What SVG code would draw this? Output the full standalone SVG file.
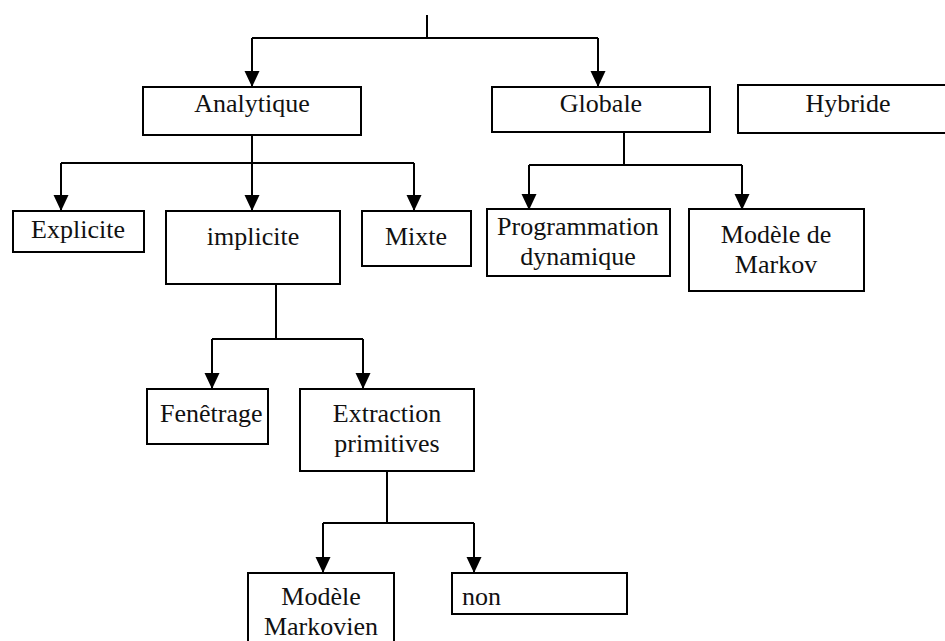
<svg xmlns="http://www.w3.org/2000/svg" width="945" height="641" viewBox="0 0 945 641">
  <style>
    .box { fill: #fff; stroke: #000; stroke-width: 2; }
    .lbl { font-family: 'Liberation Serif', 'Times New Roman', Times, serif; font-size: 26px; fill: #111; text-anchor: middle; }
    .start { text-anchor: start; }
    .wire { fill: none; stroke: #000; stroke-width: 2; }
  </style>
  <defs>
    <marker id="arrow" markerWidth="16" markerHeight="16" refX="15" refY="7.5" orient="auto" markerUnits="userSpaceOnUse">
      <path d="M0,0 L16,7.5 L0,15 Z" fill="#000"/>
    </marker>
  </defs>

  <!-- connectors: vertical drops, horizontal bus lines, arrowed branches -->
  <g id="connectors">
    <line class="wire" x1="427" y1="15" x2="427" y2="38"/>
    <line class="wire" x1="252" y1="38" x2="598" y2="38"/>
    <line class="wire" x1="252" y1="38" x2="252" y2="86" marker-end="url(#arrow)"/>
    <line class="wire" x1="598" y1="38" x2="598" y2="86" marker-end="url(#arrow)"/>
    <line class="wire" x1="252" y1="135" x2="252" y2="163"/>
    <line class="wire" x1="61" y1="163" x2="414" y2="163"/>
    <line class="wire" x1="61" y1="163" x2="61" y2="210" marker-end="url(#arrow)"/>
    <line class="wire" x1="252" y1="163" x2="252" y2="210" marker-end="url(#arrow)"/>
    <line class="wire" x1="414" y1="163" x2="414" y2="210" marker-end="url(#arrow)"/>
    <line class="wire" x1="624" y1="132" x2="624" y2="165"/>
    <line class="wire" x1="529" y1="165" x2="742" y2="165"/>
    <line class="wire" x1="529" y1="165" x2="529" y2="209" marker-end="url(#arrow)"/>
    <line class="wire" x1="742" y1="165" x2="742" y2="209" marker-end="url(#arrow)"/>
    <line class="wire" x1="276" y1="284" x2="276" y2="339"/>
    <line class="wire" x1="212" y1="339" x2="363" y2="339"/>
    <line class="wire" x1="212" y1="339" x2="212" y2="388" marker-end="url(#arrow)"/>
    <line class="wire" x1="363" y1="339" x2="363" y2="388" marker-end="url(#arrow)"/>
    <line class="wire" x1="387" y1="471" x2="387" y2="523"/>
    <line class="wire" x1="323" y1="523" x2="474" y2="523"/>
    <line class="wire" x1="323" y1="523" x2="323" y2="572" marker-end="url(#arrow)"/>
    <line class="wire" x1="474" y1="523" x2="474" y2="572" marker-end="url(#arrow)"/>
  </g>

  <g id="analytique">
    <rect class="box" x="143" y="87" width="218" height="48"/>
    <text class="lbl" x="252" y="112">Analytique</text>
  </g>
  <g id="globale">
    <rect class="box" x="492" y="87" width="218" height="45"/>
    <text class="lbl" x="601" y="112">Globale</text>
  </g>
  <g id="hybride">
    <rect class="box" x="738" y="85" width="222" height="48"/>
    <text class="lbl" x="848" y="112">Hybride</text>
  </g>

  <g id="explicite">
    <rect class="box" x="13" y="211" width="131" height="41"/>
    <text class="lbl" x="78" y="238">Explicite</text>
  </g>
  <g id="implicite">
    <rect class="box" x="166" y="211" width="174" height="73"/>
    <text class="lbl" x="253" y="245">implicite</text>
  </g>
  <g id="mixte">
    <rect class="box" x="362" y="211" width="109" height="55"/>
    <text class="lbl" x="416" y="245">Mixte</text>
  </g>

  <g id="programmation">
    <rect class="box" x="487" y="209" width="183" height="67"/>
    <text class="lbl" x="578" y="235">Programmation</text>
    <text class="lbl" x="578" y="265">dynamique</text>
  </g>
  <g id="markov">
    <rect class="box" x="689" y="209" width="175" height="82"/>
    <text class="lbl" x="776" y="243">Modèle de</text>
    <text class="lbl" x="776" y="273">Markov</text>
  </g>

  <g id="fenetrage">
    <rect class="box" x="147" y="389" width="121" height="55"/>
    <text class="lbl start" x="160" y="422">Fenêtrage</text>
  </g>
  <g id="extraction">
    <rect class="box" x="300" y="389" width="174" height="82"/>
    <text class="lbl" x="387" y="422">Extraction</text>
    <text class="lbl" x="387" y="452">primitives</text>
  </g>

  <g id="markovien">
    <rect class="box" x="248" y="573" width="146" height="80"/>
    <text class="lbl" x="321" y="605">Modèle</text>
    <text class="lbl" x="321" y="635">Markovien</text>
  </g>
  <g id="non">
    <rect class="box" x="452" y="573" width="175" height="41"/>
    <text class="lbl start" x="462" y="605">non</text>
  </g>
</svg>
